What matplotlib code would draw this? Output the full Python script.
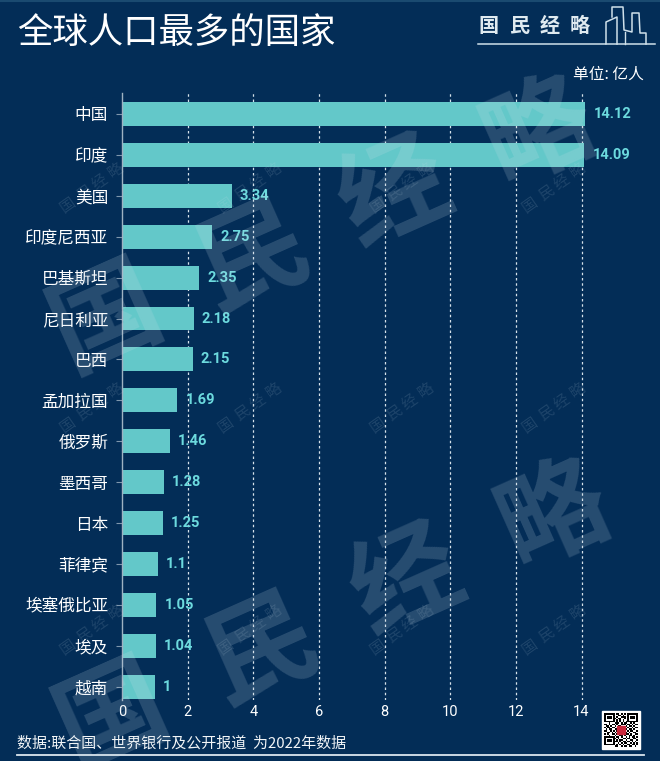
import matplotlib
matplotlib.use('Agg')
import matplotlib.pyplot as plt
import numpy as np

plt.rcParams['font.family'] = ['Noto Sans CJK SC', 'DejaVu Sans']

countries = ['中国', '印度', '美国', '印度尼西亚', '巴基斯坦', '尼日利亚', '巴西', '孟加拉国',
             '俄罗斯', '墨西哥', '日本', '菲律宾', '埃塞俄比亚', '埃及', '越南']
population = [14.12, 14.09, 3.34, 2.75, 2.35, 2.18, 2.15, 1.69, 1.46, 1.28, 1.25, 1.1, 1.05, 1.04, 1]
value_labels = ['14.12', '14.09', '3.34', '2.75', '2.35', '2.18', '2.15', '1.69', '1.46', '1.28',
                '1.25', '1.1', '1.05', '1.04', '1']
x_ticks = [0, 2, 4, 6, 8, 10, 12, 14]

BG = '#032d57'
BAR = '#63c8c9'
LABEL = '#6cdade'
W, H = 660, 761

fig = plt.figure(figsize=(W / 100, H / 100), dpi=100, facecolor=BG)

# main chart
ax = fig.add_axes([122 / W, 1 - 700 / H, (581.5 - 122) / 14 * 15 / W, (700 - 93) / H])
ax.set_facecolor('none')
ypos = np.arange(len(countries))
ax.barh(ypos, population, height=0.585, color=BAR, zorder=2)
ax.set_xlim(0, 15)
ax.set_ylim(len(countries) - 1 + 0.32, -0.51)
ax.set_yticks(ypos, countries, fontsize=12, color='white')
ax.set_xticks(x_ticks, [str(t) for t in x_ticks], fontsize=10.5, color='white', family=['Roboto', 'DejaVu Sans'])
ax.tick_params(axis='y', length=4, color='#7f97ad', width=0.8, pad=6)
ax.tick_params(axis='x', length=0, pad=3.5)
for s in ['top', 'right', 'bottom']:
    ax.spines[s].set_visible(False)
ax.spines['left'].set_color('#9fb2c2')
ax.spines['left'].set_linewidth(1)
ax.spines['left'].set_zorder(3)
for t in x_ticks[1:]:
    ax.axvline(t, color='#d6e2ea', lw=0.9, ls=(0, (2, 2.2)), zorder=1)
for y, v, lab in zip(ypos, population, value_labels):
    ax.text(v + 0.24, y, lab, color=LABEL, fontsize=10.5, fontweight='bold', va='center', ha='left', zorder=4,
            family=['Roboto', 'DejaVu Sans'])

# decoration layer in pixel coordinates
ov = fig.add_axes([0, 0, 1, 1], zorder=5)
ov.set_xlim(0, W)
ov.set_ylim(H, 0)
ov.axis('off')

ov.text(17, 33, '全球人口最多的国家', color='white', fontsize=25.5, va='center', ha='left')
ov.text(644, 74, '单位: 亿人', color='white', fontsize=11.3, va='center', ha='right')
ov.text(17, 743, '数据:联合国、世界银行及公开报道  为2022年数据', color='#f2f5f7', fontsize=10.8, va='center', ha='left')
ov.plot([17, 644], [754.5, 754.5], color='#dbe6ee', lw=1.3)
ov.plot([0, 660], [0.8, 0.8], color='#1a4a70', lw=1.5)

# logo
for ch, x in zip('国民经略', [489, 519, 550, 580]):
    ov.text(x, 25, ch, color='#dfeaf0', fontsize=14.5, va='center', ha='center', family=['Noto Sans CJK JP'], fontweight='bold')
logo_c = '#cfe0ea'
ov.plot([478, 606, 606, 617, 617], [44, 44, 22, 17, 44], color=logo_c, lw=1.1)
ov.plot([606, 655], [44, 44], color=logo_c, lw=1.1)
ov.plot([612, 612, 623, 624, 632, 632, 639, 640, 646, 646],
        [17, 7, 7, 30, 32, 13, 13, 33, 33, 44], color=logo_c, lw=1.1)
ov.plot([625, 625], [32, 44], color=logo_c, lw=1.0)


# watermarks
def watermark(x0, y0, dx, dy, fs, rot, color, alpha, weight='normal'):
    for i, ch in enumerate('国民经略'):
        ov.text(x0 + i * dx, y0 + i * dy, ch, color=color, alpha=alpha, fontsize=fs, rotation=rot, ha='center',
                va='center', fontweight=weight, family=['Noto Sans CJK JP'], clip_on=True)


watermark(107, 320, 144, -62, 78, 24, '#cfdfea', 0.18, 'bold')
watermark(113, 718, 147, -67, 78, 24, '#cfdfea', 0.18, 'bold')
for y in [188, 408, 630]:
    for x in [92, 250, 402, 554]:
        watermark(x - 24, y + 17, 16, -11.5, 11, 35, '#cfdfea', 0.13)

# QR code placeholder
qr_rows = ['1111111011010101111111', '1000001001101001000001', '1011101010011101011101', '1011101101100101011101',
           '1000001010101001000001', '1111111010101011111111', '0001000111010110010100', '1101011010011101101011',
           '0110100101100010110100', '1011011001101101001011', '0101100110010110110100', '1100101011101001011001',
           '0011010100110110100110', '1010011011001011010011', '0001000100110100110100', '1111111011010010101101',
           '1000001101001101100110', '1011101010110010011001', '1011101110101101101010', '1000001001010110010101',
           '1111111010101001101101', '0000000110010110110010']
qr = np.array([[int(c) for c in r] for r in qr_rows])
ov.add_patch(plt.Rectangle((602, 711), 38, 38, color='white', zorder=6))
ov.imshow(1 - qr, extent=(604, 638, 747, 713), cmap='gray', interpolation='nearest', aspect='auto', zorder=7)
ov.add_patch(plt.Rectangle((617, 726), 8, 8, color='#c8283c', zorder=8))
ov.set_xlim(0, W)
ov.set_ylim(H, 0)

fig.savefig('out.png', dpi=100, facecolor=BG)
